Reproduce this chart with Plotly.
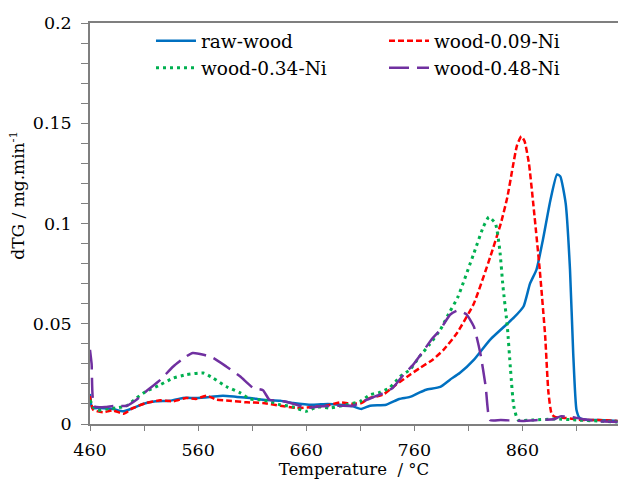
import plotly.graph_objects as go

# ---------------- data ----------------
raw_T = [460, 462, 469, 481, 491, 500, 509, 521, 534, 546, 558, 571, 583, 596, 608, 620, 636, 648, 666, 680,
         691, 703, 711, 719, 734, 746, 756, 765, 771, 784, 793, 802, 815, 830, 846, 852, 861, 867, 873, 879,
         886, 892, 895, 900, 904, 907, 910, 913, 920, 930, 948]
raw_dtg = [0.015, 0.008, 0.008, 0.0075, 0.0063, 0.008, 0.010, 0.0113, 0.0116, 0.013, 0.013, 0.0135, 0.0141,
           0.0135, 0.013, 0.0121, 0.0116, 0.0105, 0.0096, 0.010, 0.0096, 0.0088, 0.0075, 0.0091, 0.0096,
           0.0125, 0.0135, 0.0158, 0.0171, 0.0185, 0.0221, 0.0254, 0.032, 0.042, 0.050, 0.053, 0.0586, 0.070,
           0.077, 0.092, 0.112, 0.1245, 0.1235, 0.110, 0.077, 0.035, 0.007, 0.003, 0.002, 0.002, 0.0015]

ni009_T = [460, 463, 472, 481, 491, 500, 512, 525, 537, 549, 558, 568, 577, 589, 605, 620, 636, 651, 666, 679,
           691, 703, 711, 719, 731, 743, 756, 765, 777, 787, 799, 815, 830, 840, 846, 851, 855, 859, 862, 866,
           870, 876, 881, 884, 887, 890, 900, 915, 930, 948]
ni009_dtg = [0.014, 0.0071, 0.0058, 0.0068, 0.0051, 0.008, 0.0105, 0.0118, 0.0113, 0.013, 0.0125, 0.0141,
             0.0121, 0.0116, 0.0108, 0.0105, 0.0091, 0.008, 0.0085, 0.0091, 0.0108, 0.0101, 0.0105, 0.013,
             0.0146, 0.0196, 0.0246, 0.0279, 0.0321, 0.037, 0.045, 0.060, 0.083, 0.100, 0.113, 0.128, 0.139,
             0.1435, 0.141, 0.130, 0.110, 0.077, 0.044, 0.016, 0.005, 0.0035, 0.003, 0.002, 0.002, 0.0015]

ni034_T = [460, 463, 467, 475, 484, 494, 503, 512, 525, 537, 549, 565, 574, 586, 599, 608, 617, 626, 636, 648,
           660, 670, 682, 697, 710, 719, 728, 737, 747, 756, 765, 774, 784, 793, 800, 815, 824, 829, 835, 839,
           842, 846, 849, 852, 856, 870, 890, 910, 930, 948]
ni034_dtg = [0.012, 0.0085, 0.0068, 0.0075, 0.008, 0.0091, 0.013, 0.0163, 0.0196, 0.0229, 0.0246, 0.0254,
             0.0229, 0.0187, 0.0155, 0.0125, 0.0121, 0.0113, 0.0096, 0.0085, 0.0063, 0.0085, 0.008, 0.0096,
             0.0113, 0.0146, 0.0158, 0.018, 0.0237, 0.0271, 0.0337, 0.0396, 0.047, 0.0562, 0.063, 0.085,
             0.0985, 0.1032, 0.100, 0.087, 0.0686, 0.0487, 0.027, 0.0088, 0.002, 0.002, 0.0025, 0.002, 0.0015,
             0.001]

ni048_T = [460, 461.5, 464, 475, 484, 494, 503, 512, 525, 537, 549, 555, 565, 574, 586, 599, 611, 620, 626,
           639, 651, 660, 673, 691, 703, 716, 728, 740, 750, 759, 768, 777, 784, 793, 800, 808, 815, 821, 826,
           830, 840, 860, 875, 890, 895, 905, 915, 930, 948]
ni048_dtg = [0.037, 0.030, 0.0088, 0.0085, 0.0091, 0.0091, 0.0121, 0.0163, 0.022, 0.0287, 0.0337, 0.0354,
             0.0345, 0.0329, 0.0287, 0.0237, 0.018, 0.0168, 0.0121, 0.0113, 0.0096, 0.008, 0.0088, 0.0091,
             0.0091, 0.0121, 0.0146, 0.018, 0.0246, 0.0296, 0.0362, 0.0429, 0.047, 0.0545, 0.0566, 0.0548,
             0.0487, 0.0354, 0.0187, 0.002, 0.002, 0.0015, 0.002, 0.0025, 0.0038, 0.0035, 0.0025, 0.0015, 0.001]

series_names = ["raw-wood", "wood-0.09-Ni", "wood-0.34-Ni", "wood-0.48-Ni"]
x_tick_vals = [460, 560, 660, 760, 860]
y_tick_vals = [0, 0.05, 0.1, 0.15, 0.2]

# ---------------- figure ----------------
FONT = "DejaVu Serif"
AX = "#7F7F7F"

styles = [
    dict(color="#0070C0", width=2.5, dash="solid"),
    dict(color="#FF0000", width=2.5, dash="6px,3px"),
    dict(color="#00B050", width=3, dash="3px,4px"),
    dict(color="#7030A0", width=2.5, dash="20px,8px"),
]
legend_of = ["legend", "legend2", "legend", "legend2"]
xs = [raw_T, ni009_T, ni034_T, ni048_T]
ys = [raw_dtg, ni009_dtg, ni034_dtg, ni048_dtg]

fig = go.Figure()
for name, x, y, st, lg in zip(series_names, xs, ys, styles, legend_of):
    fig.add_trace(go.Scatter(x=x, y=y, mode="lines", name=name, line=dict(shape="spline", smoothing=0.5, **st),
                             legend=lg, legendgroup=name))

leg_common = dict(
    orientation="v", y=1.002, xanchor="left", yanchor="top",
    font=dict(family=FONT, size=18.5, color="black"),
    bgcolor="rgba(0,0,0,0)", traceorder="normal", tracegroupgap=9, itemwidth=40,
)

fig.update_layout(
    width=618, height=481,
    margin=dict(l=90, r=0, t=23, b=57),
    plot_bgcolor="white", paper_bgcolor="white",
    font=dict(family=FONT, size=17, color="black"),
    showlegend=True,
    legend=dict(x=0.1155, **leg_common),
    legend2=dict(x=0.5568, **leg_common),
    annotations=[dict(
        text="dTG / mg.min<sup>-1</sup>", textangle=-90, showarrow=False,
        xref="paper", yref="paper", x=0, xshift=-73, y=(424.3 - 196) / 401,
        xanchor="center", yanchor="middle", font=dict(family=FONT, size=17, color="black"),
    )],
)
fig.update_xaxes(
    range=[460, 948.4], tickvals=x_tick_vals, showgrid=False, zeroline=False,
    showline=True, linecolor=AX, linewidth=1.5, mirror=True,
    ticks="outside", ticklen=5, tickcolor=AX, tickwidth=1.2,
    minor=dict(dtick=50, tick0=460, ticks="outside", ticklen=5, tickcolor=AX, tickwidth=1.2),
    tickfont=dict(family=FONT, size=17.5, color="black"),
    ticklabelstandoff=4,
    title=dict(text="Temperature  / °C", font=dict(family=FONT, size=16.5), standoff=4),
)
fig.update_yaxes(
    range=[0, 0.2], tickvals=y_tick_vals, showgrid=False, zeroline=False,
    showline=True, linecolor=AX, linewidth=1.5, mirror=False,
    ticks="outside", ticklen=7, tickcolor=AX, tickwidth=1.2,
    minor=dict(dtick=0.01, ticks="outside", ticklen=7, tickcolor=AX, tickwidth=1.2),
    tickfont=dict(family=FONT, size=17.5, color="black"),
    ticklabelstandoff=6,
)

fig.write_html("out.html")
